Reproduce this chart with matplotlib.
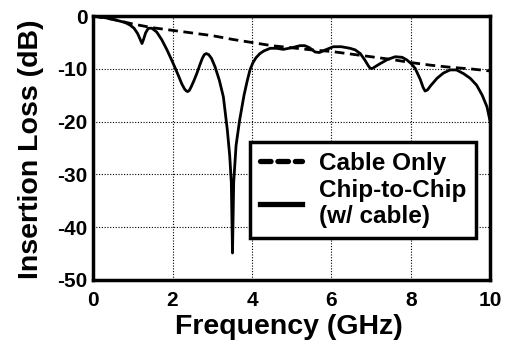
import matplotlib
matplotlib.use("Agg")
import matplotlib.pyplot as plt

plt.rcParams['font.family'] = ['Liberation Sans', 'DejaVu Sans']
plt.rcParams['font.weight'] = 'bold'
plt.rcParams['axes.unicode_minus'] = False

# Cable-only insertion loss (GHz, dB)
cable_freq = [0, 0.5, 1.0, 1.5, 2.0, 2.5, 3.0, 3.5, 4.0, 4.5, 5.0, 5.5,
              6.0, 6.5, 7.0, 7.5, 8.0, 8.5, 9.0, 9.5, 10.0]
cable_db = [0, -0.6, -1.5, -2.2, -2.7, -3.2, -3.7, -4.4, -5.0, -5.6, -6.0, -6.4,
            -6.7, -7.2, -7.7, -8.2, -8.8, -9.3, -9.7, -10.0, -10.4]

# Chip-to-chip (with cable) insertion loss (GHz, dB)
chip_freq = [0, 0.3, 0.6, 0.8, 0.93, 1.03, 1.12, 1.19, 1.23, 1.27, 1.32, 1.39,
             1.48, 1.6, 1.73, 1.86, 1.97, 2.07, 2.16, 2.23, 2.3, 2.35, 2.38,
             2.42, 2.47, 2.54, 2.61, 2.68, 2.75, 2.8, 2.85, 2.91, 2.98, 3.07,
             3.18, 3.28, 3.38, 3.44, 3.48, 3.51, 3.54, 3.6, 3.69, 3.8, 3.88,
             3.95, 4.02, 4.1, 4.2, 4.3, 4.46, 4.62, 4.79, 5.0, 5.21, 5.33, 5.45,
             5.59, 5.7, 5.85, 6.05, 6.25, 6.47, 6.6, 6.73, 6.85, 6.93, 6.98,
             7.04, 7.1, 7.23, 7.42, 7.61, 7.78, 7.9, 8.01, 8.11, 8.24, 8.31,
             8.36, 8.42, 8.5, 8.66, 8.82, 8.99, 9.15, 9.33, 9.5, 9.66, 9.8,
             9.92, 10.0]
chip_db = [0, -0.3, -0.8, -1.2, -1.7, -2.3, -3.3, -4.5, -5.2, -4.4, -3.2, -2.3,
           -2.3, -3.0, -4.5, -6.4, -8.2, -9.9, -11.5, -12.8, -13.8, -14.2, -14.3,
           -14.1, -13.4, -12.2, -10.9, -9.4, -8.0, -7.3, -7.1, -7.3, -8.0, -9.6,
           -12.2, -15.3, -21.6, -26.5, -31.5, -44.9, -31.5, -24.5, -19.7, -15.0, -12.3,
           -10.2, -8.9, -7.9, -7.1, -6.6, -6.1, -6.1, -6.3, -6.0, -5.6, -5.6, -6.0,
           -6.8, -6.9, -6.4, -5.8, -5.8, -6.1, -6.4, -7.1, -8.4, -9.4, -9.9,
           -9.9, -9.6, -9.0, -8.2, -7.7, -7.8, -8.3, -9.0, -9.9, -12.0, -13.5,
           -14.2, -14.0, -13.2, -11.8, -10.8, -10.2, -10.2, -10.9, -11.8, -13.1, -15.0,
           -17.2, -20.0]

x_ticks = [0, 2, 4, 6, 8, 10]
y_ticks = [0, -10, -20, -30, -40, -50]

fig = plt.figure(figsize=(5.09, 3.43), dpi=100)
ax = fig.add_axes([0.183, 0.184, 0.780, 0.769])

ax.plot(cable_freq, cable_db, color='black', lw=2.0, ls=(0, (3.5, 2.0)),
        label='Cable Only')
ax.plot(chip_freq, chip_db, color='black', lw=2.0, label='Chip-to-Chip\n(w/ cable)')

ax.set_xlim(0, 10)
ax.set_ylim(-50, 0)
ax.set_xticks(x_ticks)
ax.set_yticks(y_ticks)
ax.tick_params(axis='both', length=0, labelsize=15)
ax.tick_params(axis='x', pad=8)
ax.tick_params(axis='y', pad=4)
for lab in ax.get_xticklabels() + ax.get_yticklabels():
    lab.set_fontweight('bold')

ax.grid(True, color='black', ls=(0, (1, 1.5)), lw=0.8)
for sp in ax.spines.values():
    sp.set_linewidth(2.5)

ax.set_xlabel('Frequency (GHz)', fontsize=20.5, fontweight='bold')
ax.set_ylabel('Insertion Loss (dB)', fontsize=20.5, fontweight='bold')
ax.xaxis.set_label_coords(0.492, -0.13)
ax.yaxis.set_label_coords(-0.125, 0.495)

leg = ax.legend(loc='upper left', bbox_to_anchor=(0.395, 0.522), borderaxespad=0,
                fancybox=False, edgecolor='black', framealpha=1,
                prop={'size': 17.5, 'weight': 'bold'}, handlelength=1.75,
                handletextpad=0.7, labelspacing=0.15, borderpad=0.4)
leg.get_frame().set_linewidth(2.5)
handles = leg.get_lines()
for line in handles:
    line.set_linewidth(3.8)
handles[0].set_dashes([2.0, 1.3])
handles[0].set_dash_capstyle('round')

fig.savefig('out.png', dpi=100)
